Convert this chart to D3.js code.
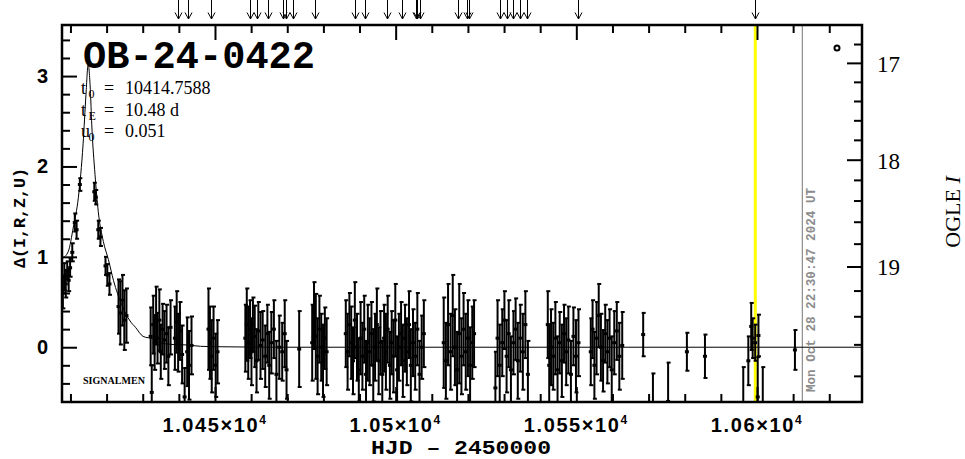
<!DOCTYPE html>
<html><head><meta charset="utf-8">
<script src="https://cdn.jsdelivr.net/npm/d3@7"></script>
<style>body{margin:0;background:#fff}svg{display:block}</style>
</head><body>
<svg id="chart" width="965" height="459"></svg>
<script>
// ---------------- data ----------------
const eventName = "OB-24-0422";
const paramNames = ["t", "t", "u"];
const paramSubs = ["0", "E", "0"];
const paramValues = ["10414.7588", "10.48 d", "0.051"];
const surveyLabel = "SIGNALMEN";
const xTitle = "HJD \u2013 2450000";
const yTitle = "\u0394(I,R,Z,U)";
const y2Title = "OGLE ";
const y2TitleItalic = "I";
const stampText = "Mon Oct 28 22:30:47 2024 UT";

const xMajorTicks = [10450, 10500, 10550, 10600];
const xMajorLabels = ["1.045", "1.05", "1.055", "1.06"];
const xMinorTicks = [10410, 10420, 10430, 10440, 10460, 10470, 10480, 10490, 10510, 10520, 10530, 10540, 10560, 10570, 10580, 10590, 10610, 10620];
const yMajorTicks = [0, 1, 2, 3];
const yMinorTicks = [-0.4, -0.2, 0.2, 0.4, 0.6, 0.8, 1.2, 1.4, 1.6, 1.8, 2.2, 2.4, 2.6, 2.8, 3.2, 3.4];
const magMajorTicks = [17, 18, 19];
const magMinorTicks = [16.8, 17.2, 17.4, 17.6, 17.8, 18.2, 18.4, 18.6, 18.8, 19.2, 19.4, 19.6, 19.8];

const arrowTimes = [10439.85, 10442.61, 10448.81, 10459.69, 10461.71, 10464.59, 10468.91, 10469.65, 10471.67, 10477.68, 10488.75, 10491.52, 10497.69, 10501.67, 10505.63, 10505.99, 10506.74, 10517.34, 10519.66, 10520.38, 10528.88, 10530.73, 10532.56, 10534.41, 10536.27, 10550.55, 10599.53];
const highlightTime = 10599.53;
const nowTime = 10612.55;

// model curve
const modelTime = [10407.66, 10409.4, 10410.8, 10412.2, 10413.5, 10414.3, 10414.9, 10415.5, 10415.9, 10416.8, 10417.7, 10419.1, 10420.5, 10421.9, 10424.2, 10426.5, 10428.0, 10430.1, 10432.9, 10434.0, 10438.4, 10442.3, 10446.0, 10452.2, 10470.0, 10629.06];
const modelDelta = [0.98, 1.06, 1.33, 1.66, 2.25, 2.80, 3.13, 2.85, 2.46, 1.91, 1.50, 1.17, 0.97, 0.74, 0.47, 0.29, 0.22, 0.12, 0.09, 0.06, 0.03, 0.025, 0.01, 0.005, 0.0, 0.0];

// observations
const obsTime = [
 10407.9,10408.3,10408.7,10409.1,10409.5,10409.9,
 10410.5,10411.2,10411.7,10412.6,
 10416.6,10417.0,10417.7,10418.3,
 10419.7,10420.2,10420.8,
 10423.3,10423.8,10424.4,10424.9,10425.5,
 10432.2,10432.5,10432.9,10433.3,10433.7,10434.1,10434.6,10435.0,10435.5,10436.0,10436.6,10437.1,10437.7,
 10438.9,10439.4,10439.8,10440.3,10440.9,10441.6,10442.3,10442.8,10443.5,
 10448.2,10448.6,10449.1,10449.6,10450.2,10450.7,
 10458.4,10458.8,10459.2,10459.7,10460.1,10460.5,10461.0,10461.5,10462.0,10462.6,10463.2,10463.9,10464.5,10465.0,10465.6,10466.3,10467.0,10467.8,10468.6,10469.3,10469.8,
 10473.3,10476.9,10477.4,10477.9,10478.4,10478.9,10479.4,10479.9,10480.4,10480.9,
 10486.2,10486.7,10487.2,10487.7,10488.2,10488.7,10489.3,10489.8,10490.3,10490.8,10491.3,10491.8,10492.3,10492.8,10493.3,10493.8,10494.3,10494.8,10495.3,10495.8,10496.3,10496.8,10497.3,10497.8,10498.4,10498.9,10499.4,10499.9,10500.4,10500.9,10501.5,10502.0,10502.6,10503.1,10503.7,10504.2,10504.8,10505.4,10506.0,10506.6,10507.2,10507.8,
 10513.3,10513.9,10514.5,10515.2,10515.8,10516.4,10517.0,10517.6,10518.2,10518.8,10519.4,10520.0,10520.6,10521.2,10521.7,
 10527.6,10528.2,10528.8,10529.5,10530.1,10530.7,10531.3,10531.9,10532.6,10533.2,10533.8,10534.5,10535.2,10535.9,10536.6,
 10542.1,10542.5,10543.0,10543.6,10544.2,10544.8,10545.4,10546.0,10546.6,10547.2,10547.8,10548.5,10549.2,10549.9,10550.6,
 10554.0,10554.5,10555.0,10555.6,10556.2,10556.8,10557.4,10558.0,10558.6,10559.2,10559.8,10560.5,10561.2,10561.9,10562.7,
 10568.5,10571.2,10575.4,10580.6,10585.6,
 10596.2,10597.6,10598.4,10598.8,10599.5,10600.2,10600.4,10601.6,
 10610.5
];
const obsDelta = [
 0.60,0.78,0.70,0.85,0.74,0.88,
 1.05,1.38,1.30,1.80,
 1.72,1.66,1.30,1.22,
 0.90,0.80,0.70,
 0.45,0.38,0.52,0.30,0.35,
 0.12,-0.50,0.25,0.05,0.35,0.10,0.30,-0.05,0.20,0.08,0.15,-0.10,0.22,
 0.10,0.28,0.05,0.18,-0.08,-0.55,-0.05,-0.20,0.02,
 0.20,0.05,-0.10,0.10,-0.20,-0.05,
 0.10,0.25,0.05,0.20,-0.05,0.25,0.12,-0.15,0.18,0.02,0.08,-0.10,0.15,-0.20,0.05,0.20,-0.30,0.00,-0.05,0.15,-0.25,
 -0.02,0.05,0.35,0.12,-0.10,0.20,0.00,-0.15,0.10,-0.05,
 0.15,-0.05,0.25,0.05,-0.15,0.30,0.00,-0.25,0.10,-0.10,0.20,-0.30,0.05,-0.05,0.15,-0.20,0.00,0.25,-0.15,0.05,-0.30,0.10,-0.05,0.20,-0.20,0.05,-0.10,0.30,-0.25,0.00,0.15,-0.15,0.10,-0.05,0.25,-0.20,0.05,-0.10,0.20,-0.30,0.00,0.15,
 0.05,-0.15,0.25,-0.05,0.35,0.00,-0.25,0.15,-0.10,0.20,-0.05,0.10,-0.20,0.05,0.15,
 -0.45,0.10,-0.20,0.05,0.30,-0.10,0.15,-0.25,0.05,0.20,-0.15,0.10,-0.05,0.25,-0.30,
 0.25,-0.20,0.00,-0.10,0.10,-0.25,0.05,-0.15,0.15,-0.05,0.08,-0.30,0.12,-0.10,0.05,
 -0.05,0.20,-0.20,0.10,0.35,0.00,-0.15,0.15,-0.05,0.10,-0.25,0.05,0.18,-0.10,0.02,
 0.14,-0.75,-0.60,-0.05,-0.10,
 -0.65,-0.15,0.23,0.10,0.05,-0.55,0.13,-0.65,
 -0.03
];
const obsErr = [
 0.17,0.15,0.15,0.10,0.12,0.10,
 0.10,0.10,0.10,0.07,
 0.10,0.08,0.10,0.10,
 0.10,0.12,0.12,
 0.30,0.35,0.28,0.33,0.30,
 0.32,0.30,0.32,0.30,0.32,0.28,0.34,0.30,0.28,0.32,0.32,0.32,0.30,
 0.35,0.34,0.32,0.32,0.32,0.32,0.38,0.38,0.32,
 0.45,0.40,0.40,0.35,0.35,0.35,
 0.37,0.40,0.40,0.32,0.37,0.30,0.34,0.35,0.32,0.37,0.32,0.34,0.32,0.37,0.34,0.32,0.37,0.35,0.32,0.37,0.32,
 0.42,0.42,0.37,0.47,0.42,0.37,0.37,0.40,0.34,0.37,
 0.37,0.42,0.35,0.40,0.37,0.42,0.37,0.35,0.40,0.37,0.37,0.37,0.42,0.37,0.35,0.40,0.37,0.40,0.37,0.35,0.37,0.37,0.42,0.37,0.37,0.35,0.40,0.40,0.37,0.37,0.35,0.40,0.37,0.37,0.37,0.40,0.37,0.37,0.40,0.37,0.35,0.37,
 0.50,0.42,0.45,0.42,0.45,0.42,0.42,0.55,0.42,0.40,0.42,0.42,0.42,0.40,0.37,
 0.40,0.42,0.45,0.37,0.32,0.40,0.37,0.37,0.35,0.34,0.42,0.37,0.42,0.37,0.37,
 0.37,0.45,0.42,0.37,0.40,0.37,0.34,0.40,0.32,0.37,0.37,0.37,0.32,0.40,0.37,
 0.37,0.32,0.37,0.40,0.35,0.37,0.34,0.32,0.35,0.32,0.37,0.35,0.32,0.37,0.37,
 0.24,0.46,0.43,0.21,0.24,
 0.43,0.27,0.26,0.22,0.20,0.44,0.23,0.43,
 0.22
];

// ---------------- layout ----------------
const L = 62, R = 862, T = 25, B = 402;
const svg = d3.select("#chart");

const x = d3.scaleLinear().domain([10407.66, 10629.06]).range([L, R]);
const y = d3.scaleLinear().domain([-0.606, 3.565]).range([B, T]);
// OGLE I magnitude -> delta (axis transform)
const magToDelta = m => 2.524 * Math.log10((Math.pow(10, -0.4 * (m - 19)) - 0.22) / 0.3453);

svg.append("defs").append("clipPath").attr("id", "plotclip")
  .append("rect").attr("x", L).attr("y", T).attr("width", R - L).attr("height", B - T);

// highlight line & now line
svg.append("line").attr("x1", x(highlightTime)).attr("x2", x(highlightTime))
  .attr("y1", T).attr("y2", B).attr("stroke", "#ffff00").attr("stroke-width", 3);
svg.append("line").attr("x1", x(nowTime)).attr("x2", x(nowTime))
  .attr("y1", T).attr("y2", B).attr("stroke", "#8c8c8c").attr("stroke-width", 1.2);

// ticks via d3 axes
function tickAxis(axisFn, scale, vals, size, transform) {
  const g = svg.append("g").attr("transform", transform)
    .call(axisFn(scale).tickValues(vals).tickSize(size).tickFormat(""));
  g.select(".domain").remove();
  g.selectAll(".tick line").attr("stroke", "#000").attr("stroke-width", 2);
  return g;
}
tickAxis(d3.axisBottom, x, xMinorTicks, -8, `translate(0,${B})`);
tickAxis(d3.axisBottom, x, xMajorTicks, -15, `translate(0,${B})`);
tickAxis(d3.axisTop, x, xMinorTicks, -8, `translate(0,${T})`);
tickAxis(d3.axisTop, x, xMajorTicks, -15, `translate(0,${T})`);
tickAxis(d3.axisLeft, y, yMinorTicks, -8, `translate(${L},0)`);
tickAxis(d3.axisLeft, y, yMajorTicks, -15, `translate(${L},0)`);
const magY = m => y(magToDelta(m));
const magAxisScale = Object.assign(m => magY(m), { copy: () => magAxisScale, range: () => y.range(), domain: () => y.domain(), ticks: () => magMajorTicks, tickFormat: () => (d => d) });
tickAxis(d3.axisRight, magAxisScale, magMinorTicks, -8, `translate(${R},0)`);
tickAxis(d3.axisRight, magAxisScale, magMajorTicks, -15, `translate(${R},0)`);

// observations
const obs = obsTime.map((t, i) => ({ t, v: obsDelta[i], e: obsErr[i] }));
const dataG = svg.append("g").attr("clip-path", "url(#plotclip)");
const pts = dataG.selectAll("g.pt").data(obs).join("g").attr("class", "pt");
pts.append("line").attr("x1", d => x(d.t)).attr("x2", d => x(d.t))
  .attr("y1", d => y(d.v + d.e)).attr("y2", d => y(d.v - d.e))
  .attr("stroke", "#000").attr("stroke-width", 2);
pts.append("line").attr("x1", d => x(d.t) - 1.5).attr("x2", d => x(d.t) + 2.5)
  .attr("y1", d => y(d.v + d.e)).attr("y2", d => y(d.v + d.e))
  .attr("stroke", "#000").attr("stroke-width", 2);
pts.append("line").attr("x1", d => x(d.t) - 1.5).attr("x2", d => x(d.t) + 2.5)
  .attr("y1", d => y(d.v - d.e)).attr("y2", d => y(d.v - d.e))
  .attr("stroke", "#000").attr("stroke-width", 2);
pts.append("rect").attr("x", d => x(d.t) - 2).attr("y", d => y(d.v) - 1.5)
  .attr("width", 4).attr("height", 3).attr("fill", "#000");

// model curve
const model = modelTime.map((t, i) => [t, modelDelta[i]]);
dataG.append("path").datum(model)
  .attr("d", d3.line().x(d => x(d[0])).y(d => y(d[1])).curve(d3.curveMonotoneX))
  .attr("fill", "none").attr("stroke", "#000").attr("stroke-width", 1);

// frame
svg.append("rect").attr("x", L).attr("y", T).attr("width", R - L).attr("height", B - T)
  .attr("fill", "none").attr("stroke", "#000").attr("stroke-width", 2.5);

// top arrows
svg.append("g").selectAll("path").data(arrowTimes).join("path")
  .attr("d", t => { const px = Math.round(x(t)) + 0.5; return `M${px},0V19M${px - 3.5},12.5L${px},19L${px + 3.5},12.5`; })
  .attr("fill", "none").attr("stroke", "#000").attr("stroke-width", 1);

// axis labels
const sansB = "'Liberation Sans', Arial, sans-serif";
const serif = "'Liberation Serif', 'Times New Roman', serif";
const mono = "'Liberation Mono', 'Courier New', monospace";

svg.append("g").selectAll("text").data(yMajorTicks).join("text")
  .attr("x", 48).attr("y", d => y(d) + 7).attr("text-anchor", "end")
  .attr("font-family", sansB).attr("font-weight", "bold").attr("font-size", 20).text(d => d);

const xl = svg.append("g").selectAll("text").data(xMajorTicks).join("text")
  .attr("x", d => x(d)).attr("y", 432).attr("text-anchor", "middle")
  .attr("font-family", sansB).attr("font-weight", "bold").attr("font-size", 20)
  .attr("letter-spacing", 1.6);
xl.append("tspan").text((d, i) => xMajorLabels[i] + "\u00d710");
xl.append("tspan").attr("dy", -8).attr("font-size", 12).text("4");

svg.append("g").selectAll("text").data(magMajorTicks).join("text")
  .attr("x", 877).attr("y", d => magY(d) + 9).attr("font-family", serif)
  .attr("font-size", 23).text(d => d);

svg.append("text").attr("x", 461).attr("y", 454).attr("text-anchor", "middle")
  .attr("font-family", mono).attr("font-weight", "bold").attr("font-size", 21)
  .attr("textLength", 180).attr("lengthAdjust", "spacingAndGlyphs").text(xTitle);

svg.append("text").attr("transform", "translate(25,218) rotate(-90)").attr("text-anchor", "middle")
  .attr("font-family", mono).attr("font-weight", "bold").attr("font-size", 17)
  .attr("textLength", 100).attr("lengthAdjust", "spacingAndGlyphs").text(yTitle);

const y2 = svg.append("text").attr("transform", "translate(960,212) rotate(-90)").attr("text-anchor", "middle")
  .attr("font-family", serif).attr("font-size", 22);
y2.append("tspan").text(y2Title);
y2.append("tspan").attr("font-style", "italic").text(y2TitleItalic);

// title & params
svg.append("text").attr("x", 83).attr("y", 68).attr("font-family", mono).attr("font-weight", "bold")
  .attr("font-size", 38).attr("textLength", 232).attr("lengthAdjust", "spacingAndGlyphs").text(eventName);

const baseY = [94, 115.5, 137];
paramNames.forEach((n, i) => {
  const g = svg.append("g").attr("font-family", serif).attr("font-size", 18).attr("fill", "#000");
  g.append("text").attr("x", 81).attr("y", baseY[i]).text(n);
  g.append("text").attr("x", 88.5).attr("y", baseY[i] + 4).attr("font-size", 12).text(paramSubs[i]);
  g.append("text").attr("x", 104).attr("y", baseY[i]).text("=");
  g.append("text").attr("x", 125).attr("y", baseY[i]).text(paramValues[i]);
});

svg.append("text").attr("x", 83).attr("y", 383.5).attr("font-family", serif).attr("font-weight", "bold")
  .attr("font-size", 10).attr("textLength", 62).attr("lengthAdjust", "spacingAndGlyphs").text(surveyLabel);

// time stamp
svg.append("text").attr("transform", `translate(${x(nowTime) + 13},392) rotate(-90)`)
  .attr("font-family", mono).attr("font-weight", "bold").attr("font-size", 12.5).attr("fill", "#8c8c8c")
  .attr("textLength", 204).attr("lengthAdjust", "spacingAndGlyphs").text(stampText);

// small circle marker
svg.append("circle").attr("cx", 837).attr("cy", 48).attr("r", 2.5)
  .attr("fill", "none").attr("stroke", "#000").attr("stroke-width", 2);
</script>
</body></html>
